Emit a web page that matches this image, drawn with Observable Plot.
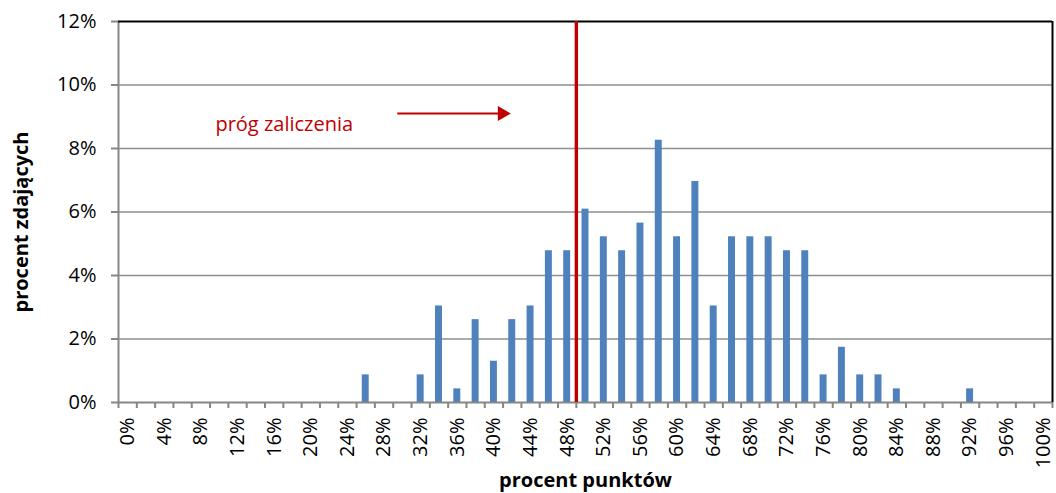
<!DOCTYPE html>
<html>
<head>
<meta charset="utf-8">
<script src="https://cdn.jsdelivr.net/npm/d3@7"></script>
<script src="https://cdn.jsdelivr.net/npm/@observablehq/plot@0.6"></script>
<style>
  html, body { margin: 0; padding: 0; background: #ffffff; }
  #chart svg { display: block; }
</style>
</head>
<body>
<div id="chart"></div>
<script>
// ---- data ----
const categories = [0, 2, 4, 6, 8, 10, 12, 14, 16, 18, 20, 22, 24, 26, 28, 30, 32, 34, 36, 38, 40, 42, 44, 46, 48, 50,
                    52, 54, 56, 58, 60, 62, 64, 66, 68, 70, 72, 74, 76, 78, 80, 82, 84, 86, 88, 90, 92, 94, 96, 98, 100];
const shares =     [0, 0, 0, 0, 0, 0, 0, 0, 0, 0, 0, 0, 0, 0.87, 0, 0, 0.87, 3.04, 0.43, 2.61, 1.30, 2.61, 3.04, 4.78, 4.78, 6.09,
                    5.22, 4.78, 5.65, 8.26, 5.22, 6.96, 3.04, 5.22, 5.22, 5.22, 4.78, 4.78, 0.87, 1.74, 0.87, 0.87, 0.43, 0, 0, 0, 0.43, 0, 0, 0, 0];
const xLabelTicks = [0, 4, 8, 12, 16, 20, 24, 28, 32, 36, 40, 44, 48, 52, 56, 60, 64, 68, 72, 76, 80, 84, 88, 92, 96, 100];
const xBoundaryTicks = [-1, 1, 3, 5, 7, 9, 11, 13, 15, 17, 19, 21, 23, 25, 27, 29, 31, 33, 35, 37, 39, 41, 43, 45, 47, 49,
                        51, 53, 55, 57, 59, 61, 63, 65, 67, 69, 71, 73, 75, 77, 79, 81, 83, 85, 87, 89, 91, 93, 95, 97, 99, 101];
const yTicks = [0, 2, 4, 6, 8, 10, 12];
const xDomain = [-1, 101];
const yDomain = [0, 12];
const passThreshold = [49];
const annotationLabel = ["próg zaliczenia"];
const annotationPos = {x: 17.1, y: 8.75};
const arrowLine = {x1: 29.5, x2: 40.6, y: 9.1};
const arrowHead = {x: 40.9, y: 9.1};
const xTitle = "procent punktów";
const yTitle = "procent zdających";

const table = categories.map((c, i) => ({cat: c, share: shares[i]}));

// ---- styles ----
const barColor = "#4f81bd";
const red = "#c00000";
const axisGray = "#868686";
const gridGray = "#8e8e8e";
const halfBar = 0.38;

const chart = Plot.plot({
  width: 1056,
  height: 493,
  marginLeft: 118,
  marginRight: 4,
  marginTop: 21,
  marginBottom: 91,
  style: {fontFamily: "'Open Sans', sans-serif", fontSize: "20px", color: "#000", background: "#fff"},
  x: {domain: xDomain},
  y: {domain: yDomain, label: null},
  marks: [
    Plot.ruleY(yTicks.filter(t => t > yDomain[0] && t < yDomain[1]), {stroke: gridGray, strokeWidth: 1.6}),
    Plot.rectY(table.filter(d => d.share > 0), {
      x1: d => d.cat - halfBar, x2: d => d.cat + halfBar, y: "share", fill: barColor, inset: 0
    }),
    Plot.ruleY([yDomain[0]], {stroke: axisGray, strokeWidth: 2}),
    Plot.ruleX([xDomain[0]], {stroke: axisGray, strokeWidth: 2}),
    Plot.ruleY([yDomain[1]], {stroke: "#000", strokeWidth: 2}),
    Plot.ruleX([xDomain[1]], {stroke: "#000", strokeWidth: 2}),
    Plot.axisY({ticks: yTicks, tickFormat: d => d + "%", tickSize: 7, tickPadding: 15, label: null,
                stroke: axisGray, fill: "#000", strokeWidth: 2, fontSize: 20}),
    Plot.axisX({ticks: xBoundaryTicks, tickFormat: () => "", tickSize: 6, label: null,
                stroke: axisGray, strokeWidth: 2}),
    Plot.axisX({ticks: xLabelTicks, tickFormat: d => d + "%", tickSize: 0, tickPadding: 15,
                tickRotate: -90, label: null, fill: "#000", fontSize: 20}),
    Plot.ruleX(passThreshold, {y1: yDomain[0], y2: yDomain[1], stroke: red, strokeWidth: 3.4}),
    Plot.text(annotationLabel, {x: annotationPos.x, y: annotationPos.y, fill: red, fontSize: 20, textAnchor: "middle"}),
    Plot.ruleY([arrowLine.y], {x1: arrowLine.x1, x2: arrowLine.x2, stroke: red, strokeWidth: 2}),
    Plot.dot([arrowHead], {x: "x", y: "y", symbol: "triangle", r: 5.6, fill: red, stroke: null, rotate: 90}),
    Plot.text([yTitle], {frameAnchor: "left", dx: -97, dy: 10, rotate: -90, textAnchor: "middle", fontWeight: "bold", fontSize: 20}),
    Plot.text([xTitle], {frameAnchor: "bottom", dy: 84, fontWeight: "bold", fontSize: 20})
  ]
});
document.getElementById("chart").appendChild(chart);
</script>
</body>
</html>
